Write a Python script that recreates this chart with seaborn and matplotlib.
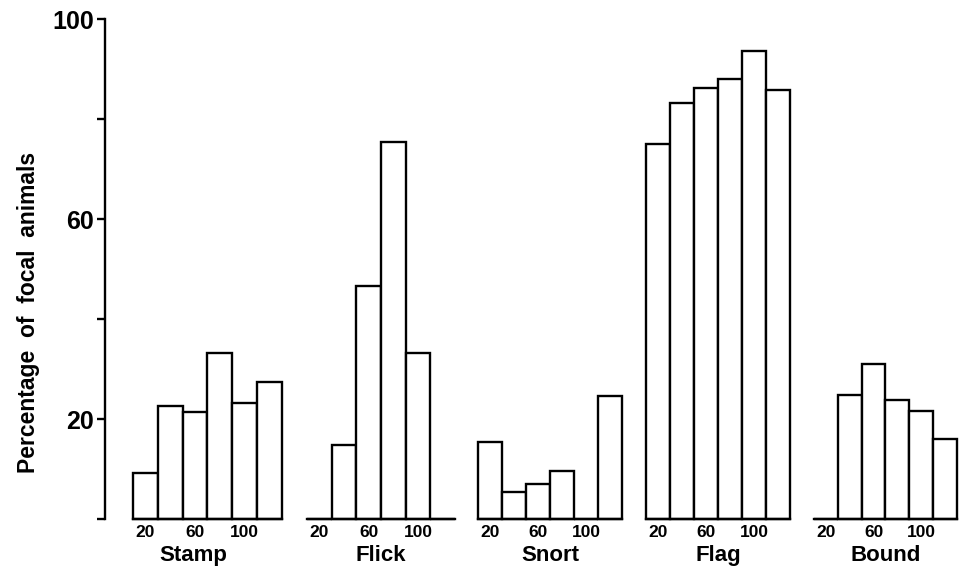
import pandas as pd
import seaborn as sns
import matplotlib.pyplot as plt

# distance classes (m) and percentage of focal animals showing each behaviour
DIST = ["20", "40", "60", "80", "100", "120"]
TICK_SHOWN = ["20", "", "60", "", "100", ""]

STAMP = [9.3, 22.6, 21.5, 33.2, 23.3, 27.5]
FLICK = [0, 14.9, 46.6, 75.4, 33.2, 0]
SNORT = [15.5, 5.5, 7.1, 9.7, 0, 24.7]
FLAG = [75.0, 83.3, 86.3, 88.1, 93.6, 85.9]
BOUND = [0, 24.9, 31.1, 23.8, 21.7, 16.1]

BEHAVIOURS = ["Stamp", "Flick", "Snort", "Flag", "Bound"]
SERIES = [STAMP, FLICK, SNORT, FLAG, BOUND]

Y_TICKS = [0, 20, 40, 60, 80, 100]
Y_LABELS = ["", "20", "", "60", "", "100"]

sns.set_style("ticks")
plt.rcParams["font.family"] = ["Liberation Sans", "DejaVu Sans"]
plt.rcParams.update({"text.color": "black", "axes.labelcolor": "black",
                     "xtick.color": "black", "ytick.color": "black",
                     "axes.edgecolor": "black"})

W, H = 978, 570
fig = plt.figure(figsize=(W / 100, H / 100), dpi=100)

# pixel extents of each group (left, right), shared baseline/top
spans = [(133, 282), (307, 455), (478, 622), (646, 790), (814, 957)]
y_base, y_top = 519, 19
spine_x = 105

for i, (name, vals) in enumerate(zip(BEHAVIOURS, SERIES)):
    x0, x1 = spans[i]
    left = spine_x if i == 0 else x0
    ax = fig.add_axes([left / W, 1 - y_base / H, (x1 - left) / W, (y_base - y_top) / H])
    df = pd.DataFrame({"dist": DIST, "pct": vals})
    sns.barplot(data=df, x="dist", y="pct", order=DIST, color="white",
                edgecolor="black", linewidth=1.7, width=1.0, saturation=1, ax=ax)
    for p in ax.patches:
        p.set_clip_on(False)

    binw = (x1 - x0) / 6
    extra = (x0 - left) / binw
    ax.set_xlim(-0.5 - extra, 5.5)
    ax.set_ylim(0, 100)

    sns.despine(ax=ax)
    ax.spines["bottom"].set_bounds(-0.5, 5.5)
    ax.spines["bottom"].set_linewidth(1.7)
    ax.set_xticks(range(6))
    ax.set_xticklabels(TICK_SHOWN, fontsize=12.5, fontweight="bold")
    ax.tick_params(axis="x", length=0, pad=4)
    ax.set_xlabel(name, fontsize=16, fontweight="bold", labelpad=4)

    if i == 0:
        ax.spines["left"].set_linewidth(1.7)
        ax.set_yticks(Y_TICKS)
        ax.set_yticklabels(Y_LABELS, fontsize=18, fontweight="bold")
        ax.tick_params(axis="y", length=6, width=1.7, pad=2)
        ax.set_ylabel("")
    else:
        ax.spines["left"].set_visible(False)
        ax.set_yticks([])
        ax.set_ylabel("")

fig.text(29 / W, 1 - 312 / H, "Percentage  of  focal  animals", rotation=90,
         ha="center", va="center", fontsize=16.5, fontweight="bold")

plt.savefig("out.png", dpi=100)
